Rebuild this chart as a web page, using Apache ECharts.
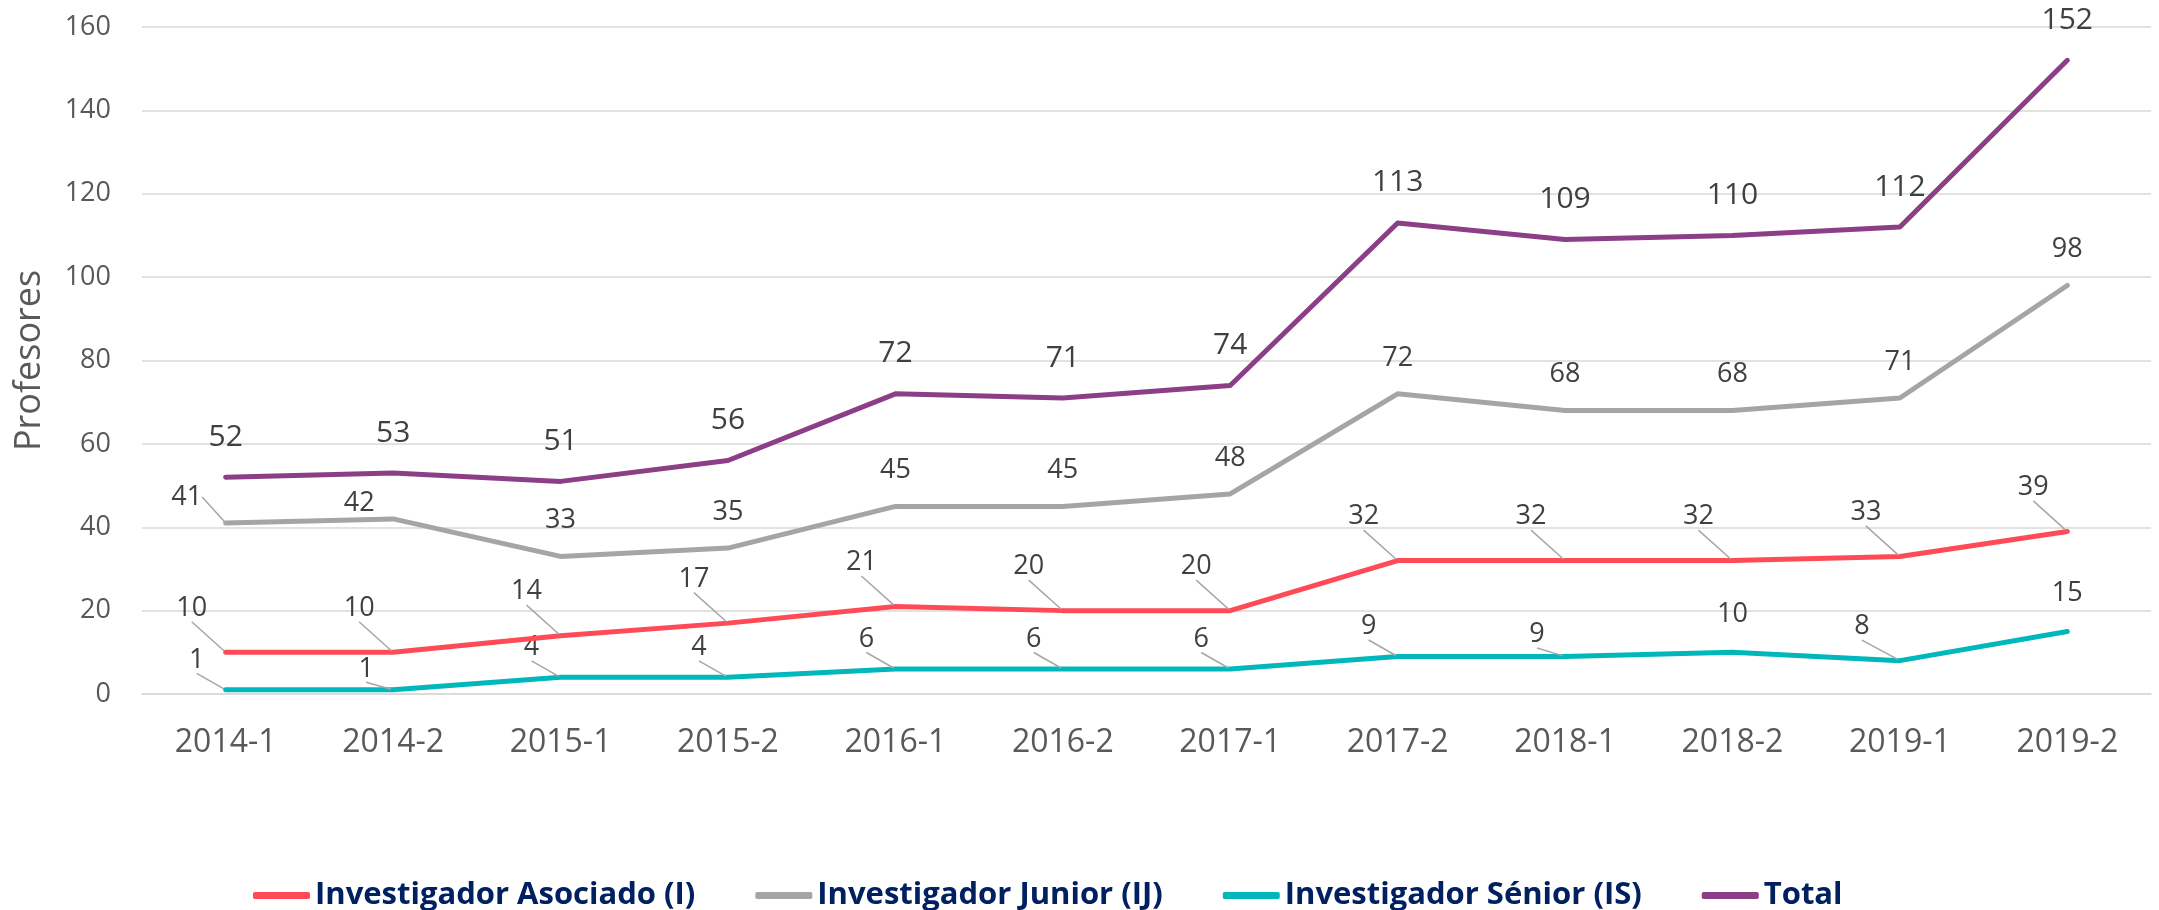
<!DOCTYPE html>
<html>
<head>
<meta charset="utf-8">
<script src="https://cdn.jsdelivr.net/npm/echarts@6/dist/echarts.min.js"></script>
<style>
  html, body { margin: 0; padding: 0; background: #fff; }
  #chart { width: 2159px; height: 910px; }
</style>
</head>
<body>
<div id="chart"></div>
<script>
// datos
const categorias = ['2014-1', '2014-2', '2015-1', '2015-2', '2016-1', '2016-2',
                    '2017-1', '2017-2', '2018-1', '2018-2', '2019-1', '2019-2'];
const asociado = [10, 10, 14, 17, 21, 20, 20, 32, 32, 32, 33, 39];
const junior   = [41, 42, 33, 35, 45, 45, 48, 72, 68, 68, 71, 98];
const senior   = [1, 1, 4, 4, 6, 6, 6, 9, 9, 10, 8, 15];
const total    = [52, 53, 51, 56, 72, 71, 74, 113, 109, 110, 112, 152];
const nombres  = ['Investigador Asociado (I)', 'Investigador Junior (IJ)',
                  'Investigador Sénior (IS)', 'Total'];
const colores  = ['#ff4b57', '#a5a5a5', '#00b8bb', '#8c3f86'];

// desplazamiento de etiquetas (estilo Excel, con líneas guía)
const ajustes = [
  { base: [-34, -44], extra: {} },
  { base: [0, -36], extra: { 0: [-39, -26], 1: [-34, -16] } },
  { base: [-29, -30], extra: { 1: [-27, -21], 8: [-28, -22], 9: [0, -38], 10: [-38, -34], 11: [0, -38] } },
  { base: [0, -40], extra: {} }
];
// qué puntos llevan línea guía
function conGuia(s, i) {
  if (s === 0) return true;
  if (s === 1) return i === 0;
  if (s === 2) return !(i === 9 || i === 11);
  return false;
}

const FUENTE = 'Open Sans';
const chart = echarts.init(document.getElementById('chart'), null, { renderer: 'canvas' });

function serie(idx, valores) {
  return {
    type: 'line',
    name: nombres[idx],
    data: valores.map((v, i) => ({ value: v, labelLine: { show: conGuia(idx, i) } })),
    symbol: 'circle',
    symbolSize: 4,
    showSymbol: true,
    color: colores[idx],
    lineStyle: { width: 5, color: colores[idx], cap: 'round', join: 'round' },
    itemStyle: { color: colores[idx] },
    label: {
      show: true,
      position: 'inside',
      fontFamily: FUENTE,
      fontSize: idx === 3 ? 30 : 27,
      color: '#404040'
    },
    labelLine: {
      show: true,
      lineStyle: { color: '#a6a6a6', width: 1.5 }
    },
    labelLayout: function (p) {
      const a = ajustes[idx];
      const d = a.extra[p.dataIndex] || a.base;
      return { dx: d[0], dy: d[1] };
    },
    emphasis: { disabled: true },
    z: idx === 3 ? 4 : 3 - idx
  };
}

const opcion = {
  animation: false,
  textStyle: { fontFamily: FUENTE },
  grid: { left: 142, right: 8, top: 27, bottom: 216, containLabel: false },
  legend: {
    left: 248,
    top: 875,
    itemWidth: 57,
    itemHeight: 7,
    itemGap: 60,
    icon: 'roundRect',
    data: nombres,
    textStyle: { fontFamily: FUENTE, fontSize: 31, fontWeight: 'bold', color: '#002060' }
  },
  xAxis: {
    type: 'category',
    data: categorias,
    boundaryGap: true,
    axisLine: { show: true, lineStyle: { color: '#d9d9d9', width: 1.5 } },
    axisTick: { show: false },
    axisLabel: { fontFamily: FUENTE, fontSize: 32, color: '#595959', margin: 33 },
    splitLine: { show: false }
  },
  yAxis: {
    type: 'value',
    min: 0, max: 160, interval: 20,
    name: 'Profesores',
    nameLocation: 'middle',
    nameRotate: 90,
    nameGap: 94,
    nameTextStyle: { fontFamily: FUENTE, fontSize: 36, color: '#595959' },
    axisLine: { show: false },
    axisTick: { show: false },
    axisLabel: { fontFamily: FUENTE, fontSize: 27, color: '#595959', margin: 31 },
    splitLine: { show: true, lineStyle: { color: '#d9d9d9', width: 1.5 } }
  },
  series: [
    serie(0, asociado),
    serie(1, junior),
    serie(2, senior),
    serie(3, total)
  ]
};

chart.setOption(opcion);
</script>
</body>
</html>
